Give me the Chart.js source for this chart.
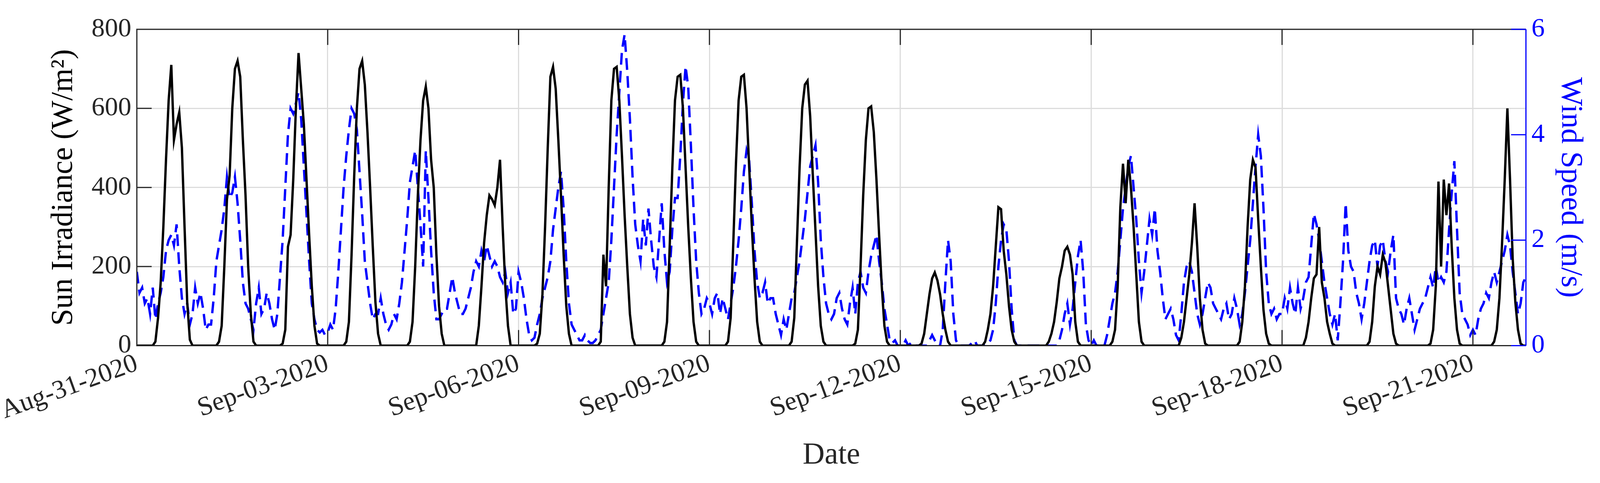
<!DOCTYPE html>
<html>
<head>
<meta charset="utf-8">
<script src="https://cdn.jsdelivr.net/npm/chart.js@4"></script>
<style>
  html, body { margin: 0; padding: 0; background: #fff; overflow: hidden; }
  #wrap { position: relative; width: 100vw; height: 100vh; }
  #c { display: block; }
</style>
</head>
<body>
<div id="wrap"><canvas id="c"></canvas></div>
<script>
/* ==== data (hourly, from Aug-31-2020 00:00) ======================== */
const tickHours = [0, 72, 144, 216, 288, 360, 432, 504];
const tickLabels = ['Aug-31-2020', 'Sep-03-2020', 'Sep-06-2020', 'Sep-09-2020', 'Sep-12-2020', 'Sep-15-2020', 'Sep-18-2020', 'Sep-21-2020'];
const irrTicks = [0, 200, 400, 600, 800];
const windTicks = [0, 2, 4, 6];

// sun irradiance (W/m2), one row per day, h0..h23
const solarDays = [
  [0,0,0,0,0,0,0,10,70,160,300,470,620,710,520,560,590,500,300,110,15,0,0,0],
  [0,0,0,0,0,0,0,10,50,200,370,430,600,700,720,680,520,380,200,80,10,0,0,0],
  [0,0,0,0,0,0,0,5,40,250,280,420,600,740,650,560,420,280,150,50,5,0,0,0],
  [0,0,0,0,0,0,0,10,60,230,430,600,700,720,660,540,400,250,110,30,0,0,0,0],
  [0,0,0,0,0,0,0,10,60,200,380,520,620,655,600,470,400,230,100,30,0,0,0,0],
  [0,0,0,0,0,0,0,0,0,50,150,260,330,380,370,355,400,470,300,150,50,0,0,0],
  [0,0,0,0,0,0,0,5,30,130,300,500,680,705,650,520,380,230,100,30,0,0,0,0],
  [0,0,0,0,0,0,0,10,230,150,400,620,700,705,620,480,330,200,80,20,0,0,0,0],
  [0,0,0,0,0,0,0,10,60,250,450,620,680,685,600,450,300,170,60,10,0,0,0,0],
  [0,0,0,0,0,0,0,10,70,260,460,620,680,685,600,450,300,170,60,10,0,0,0,0],
  [0,0,0,0,0,0,0,10,70,260,450,600,660,670,580,430,290,150,50,10,0,0,0,0],
  [0,0,0,0,0,0,0,5,40,200,380,520,600,605,540,420,280,150,50,10,0,0,0,0],
  [0,0,0,0,0,0,0,0,5,30,80,130,170,185,165,130,80,40,10,0,0,0,0,0],
  [0,0,0,0,0,0,0,0,10,40,80,150,250,350,345,240,180,100,40,10,0,0,0,0],
  [0,0,0,0,0,0,0,0,10,30,60,110,170,200,240,250,230,180,60,10,0,0,0,0],
  [0,0,0,0,0,0,0,0,10,40,150,350,460,360,470,400,300,180,60,10,0,0,0,0],
  [0,0,0,0,0,0,0,0,0,0,20,60,120,180,260,360,250,120,40,5,0,0,0,0],
  [0,0,0,0,0,0,0,0,10,60,150,300,420,470,450,320,200,90,30,5,0,0,0,0],
  [0,0,0,0,0,0,0,0,0,20,60,120,170,180,300,160,120,60,30,5,0,0,0,0],
  [0,0,0,0,0,0,0,0,0,10,60,150,200,180,230,210,150,90,30,5,0,0,0,0],
  [0,0,0,0,0,0,0,0,5,40,150,415,200,420,330,410,250,120,40,5,0,0,0,0],
  [0,0,0,0,0,0,0,0,10,40,120,260,420,600,420,220,110,40,5,0,0]
];

// wind speed (m/s), one row per day, h0..h23
const windDays = [
  [1.4,1.0,1.1,0.8,0.9,0.6,1.1,0.5,0.8,1.0,1.3,1.8,2.0,2.1,1.9,2.3,1.5,0.9,0.6,0.8,0.4,0.6,1.1,0.8],
  [1.0,0.7,0.3,0.4,0.4,0.9,1.6,1.9,2.2,2.6,3.2,2.8,2.9,3.2,2.7,2.0,1.2,0.8,0.7,0.5,0.3,0.8,1.1,0.6],
  [0.7,1.0,0.8,0.5,0.3,0.6,1.3,2.0,3.0,4.0,4.5,4.4,4.6,4.8,4.3,3.4,2.5,1.6,0.8,0.5,0.3,0.25,0.3,0.2],
  [0.25,0.4,0.3,0.7,1.4,2.2,3.0,3.6,4.1,4.5,4.4,4.1,3.3,2.5,1.6,1.2,0.8,0.5,0.6,0.6,0.9,0.6,0.4,0.3],
  [0.4,0.6,0.5,0.8,1.2,1.8,2.4,3.1,3.4,3.7,3.0,2.3,1.5,3.7,2.8,1.8,1.0,0.5,0.5,0.6,0.7,0.7,1.0,1.3],
  [1.0,0.8,0.6,0.6,0.7,0.9,1.1,1.4,1.6,1.5,1.8,1.6,1.9,1.7,1.5,1.6,1.5,1.3,1.2,1.4,1.0,1.2,0.6,0.7],
  [1.4,1.2,0.9,0.5,0.2,0.1,0.15,0.4,0.6,0.9,1.1,1.3,1.6,2.2,2.6,3.0,3.3,2.6,1.6,0.8,0.4,0.3,0.2,0.1],
  [0.1,0.2,0.1,0.05,0.05,0.1,0.2,0.3,0.6,0.9,1.2,2.0,3.0,4.0,4.8,5.6,5.9,5.2,4.3,3.2,2.3,1.9,1.6,2.4],
  [1.9,2.6,2.0,1.5,1.3,2.0,2.7,1.8,1.2,1.4,2.2,2.8,2.8,3.6,4.6,5.3,4.9,3.8,2.6,1.6,1.0,0.6,0.7,0.9],
  [0.8,0.6,0.9,1.0,0.6,0.9,0.7,0.5,0.8,1.1,1.5,2.0,2.6,3.3,3.7,3.5,2.7,1.8,1.2,0.9,1.0,1.2,0.8,0.9],
  [0.9,0.6,0.4,0.2,0.5,0.3,0.6,0.9,1.0,1.3,1.6,2.0,2.4,2.9,3.4,3.6,3.8,3.1,2.0,1.3,0.8,0.6,0.5,0.6],
  [0.9,1.0,0.7,0.5,0.4,0.8,1.1,0.6,1.2,1.4,1.1,1.0,1.4,1.7,1.9,2.1,1.6,1.2,0.7,0.4,0.1,0.05,0.1,0.0],
  [0,0,0.1,0,0.05,0,0,0,0,0,0,0.1,0.2,0.1,0,0,0.3,1.2,2.0,1.6,0.6,0.1,0,0],
  [0,0,0,0.05,0.1,0,0,0,0,0.05,0.1,0.3,0.8,1.5,2.0,2.3,2.2,1.6,0.7,0.1,0,0,0,0],
  [0,0,0,0,0,0,0,0,0,0,0,0,0.1,0.3,0.6,0.8,0.4,0.7,1.2,1.7,2.0,1.4,0.4,0.1],
  [0,0.1,0,0,0,0,0.2,0.5,0.8,1.0,1.4,2.0,2.6,3.0,3.4,3.6,3.0,2.4,1.6,1.0,1.4,1.9,2.4,2.1],
  [2.6,1.8,1.4,0.9,0.5,0.6,0.7,0.5,0.2,0.1,0.6,1.2,1.5,1.6,1.4,1.0,0.6,0.4,0.6,0.9,1.2,1.1,0.8,0.7],
  [0.6,0.5,0.7,0.8,0.5,0.6,0.9,0.7,0.4,0.6,1.0,1.5,2.0,2.7,3.4,4.0,3.6,2.6,1.4,0.8,0.6,0.7,0.5,0.6],
  [0.6,0.9,0.7,1.1,0.8,0.6,1.1,0.7,0.9,1.2,1.3,1.9,2.5,2.3,2.0,1.6,1.2,0.9,0.6,0.4,0.6,0.1,0.8,1.6],
  [2.7,1.8,1.5,1.4,1.0,0.8,0.5,0.8,1.2,1.6,1.9,2.0,1.5,1.9,2.0,1.6,1.4,1.8,2.1,0.9,0.7,0.6,0.4,0.7],
  [0.9,0.6,0.3,0.5,0.7,0.8,0.9,1.1,1.3,1.1,1.5,1.2,1.3,1.2,1.4,2.2,2.9,3.5,2.2,1.0,0.6,0.5,0.4,0.2],
  [0.3,0.2,0.5,0.7,0.8,1.0,0.9,1.2,1.4,1.2,1.4,1.6,1.8,2.1,1.9,1.4,1.0,0.6,0.8,1.2,1.3]
];

/* ==== helpers ====================================================== */
const toPoints = days => days.flat().map((v, i) => ({ x: i, y: v }));
const lastHour = solarDays.flat().length - 1;
const FONT = "'Liberation Serif', 'DejaVu Serif', serif";

// box around the plot + inward tick marks, MATLAB style
const frame = {
  id: 'frame',
  afterDraw(chart) {
    const { ctx, chartArea: a, scales } = chart;
    ctx.save();
    ctx.lineWidth = 3;
    ctx.strokeStyle = '#262626';
    ctx.beginPath();
    ctx.moveTo(a.right, a.top); ctx.lineTo(a.left, a.top); ctx.lineTo(a.left, a.bottom); ctx.lineTo(a.right, a.bottom);
    scales.x.ticks.forEach(t => {
      const x = scales.x.getPixelForValue(t.value);
      ctx.moveTo(x, a.bottom); ctx.lineTo(x, a.bottom - 40);
      ctx.moveTo(x, a.top); ctx.lineTo(x, a.top + 40);
    });
    scales.y.ticks.forEach(t => {
      const y = scales.y.getPixelForValue(t.value);
      ctx.moveTo(a.left, y); ctx.lineTo(a.left + 38, y);
    });
    ctx.stroke();
    ctx.strokeStyle = '#0000ff';
    ctx.beginPath();
    ctx.moveTo(a.right, a.top); ctx.lineTo(a.right, a.bottom);
    scales.y2.ticks.forEach(t => {
      const y = scales.y2.getPixelForValue(t.value);
      ctx.moveTo(a.right, y); ctx.lineTo(a.right - 38, y);
    });
    ctx.stroke();
    ctx.restore();
  }
};

/* ==== chart ======================================================== */
new Chart(document.getElementById('c'), {
  type: 'line',
  data: {
    datasets: [
      { label: 'Sun Irradiance', data: toPoints(solarDays), yAxisID: 'y', borderColor: '#000', borderWidth: 6, pointRadius: 0, tension: 0 },
      { label: 'Wind Speed', data: toPoints(windDays), yAxisID: 'y2', borderColor: '#0000ff', borderWidth: 6, borderDash: [30, 16], pointRadius: 0, tension: 0 }
    ]
  },
  options: {
    responsive: true, maintainAspectRatio: false, animation: false, devicePixelRatio: 1,
    layout: { padding: { left: 10, right: 20, top: 75, bottom: 20 } },
    plugins: { legend: { display: false }, tooltip: { enabled: false } },
    scales: {
      x: {
        type: 'linear', min: 0, max: lastHour,
        afterBuildTicks: s => { s.ticks = tickHours.map(v => ({ value: v })); },
        ticks: {
          callback: v => tickLabels[tickHours.indexOf(v)],
          maxRotation: 20, minRotation: 20, color: '#262626',
          font: { family: FONT, size: 68 }, padding: 6
        },
        grid: { color: '#dcdcdc', lineWidth: 3, drawTicks: false },
        border: { display: false },
        title: { display: true, text: 'Date', color: '#262626', font: { family: FONT, size: 78 }, padding: { top: 20 } }
      },
      y: {
        position: 'left', min: 0, max: 800,
        afterBuildTicks: s => { s.ticks = irrTicks.map(v => ({ value: v })); },
        ticks: { color: '#262626', font: { family: FONT, size: 68 }, padding: 14 },
        grid: { color: '#dcdcdc', lineWidth: 3, drawTicks: false },
        border: { display: false },
        title: { display: true, text: 'Sun Irradiance (W/m²)', color: '#000', font: { family: FONT, size: 78 }, padding: { bottom: 10 } }
      },
      y2: {
        position: 'right', min: 0, max: 6,
        afterBuildTicks: s => { s.ticks = windTicks.map(v => ({ value: v })); },
        ticks: { color: '#0000ff', font: { family: FONT, size: 68 }, padding: 14 },
        grid: { display: false, drawTicks: false },
        border: { display: false },
        title: { display: true, text: 'Wind Speed (m/s)', color: '#0000ff', font: { family: FONT, size: 78 }, padding: { top: 10 } }
      }
    }
  },
  plugins: [frame]
});
</script>
</body>
</html>
